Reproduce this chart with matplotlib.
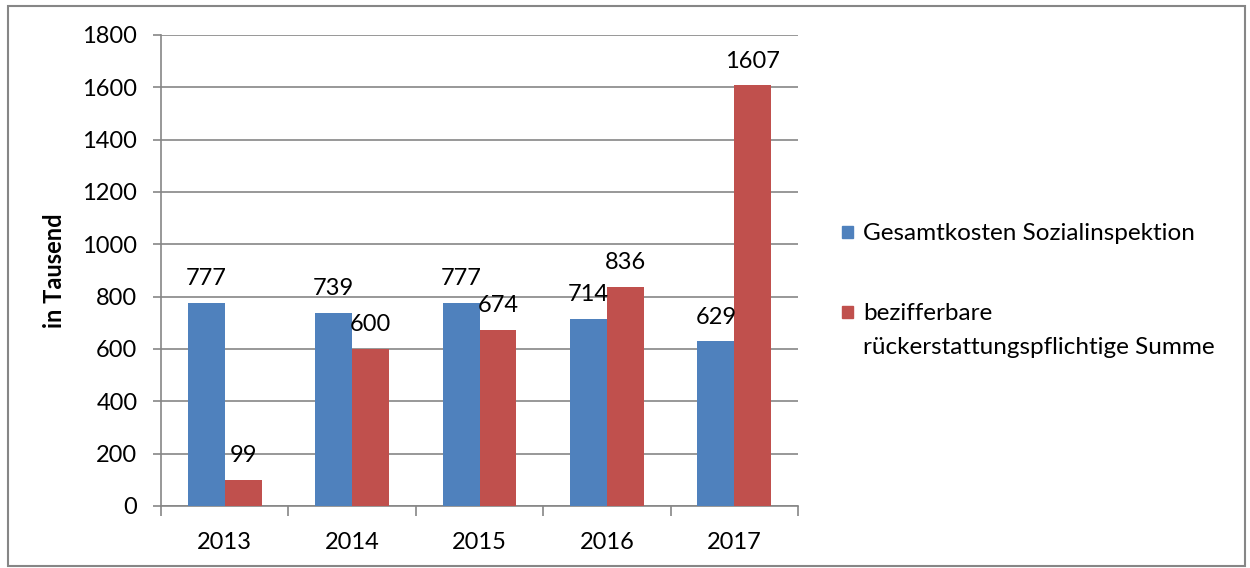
import matplotlib.pyplot as plt
from matplotlib.patches import Rectangle
import numpy as np

jahre = ["2013", "2014", "2015", "2016", "2017"]
gesamtkosten = [777, 739, 777, 714, 629]
rueckerstattung = [99, 600, 674, 836, 1607]
legende = [["Gesamtkosten Sozialinspektion"],
           ["bezifferbare", "rückerstattungspflichtige Summe"]]

blau = "#4F81BD"
rot = "#C0504D"
grau = "#868686"

plt.rcParams['font.family'] = ['Lato', 'DejaVu Sans']
gr = 17

fig = plt.figure(figsize=(12.5, 5.68), dpi=100)
ax = fig.add_axes([0.1288, 0.1092, 0.5096, 0.8292])

x = np.arange(len(jahre))
breite = 0.29
b1 = ax.bar(x - breite / 2, gesamtkosten, breite, color=blau, zorder=3)
b2 = ax.bar(x + breite / 2, rueckerstattung, breite, color=rot, zorder=3)

for bars, werte in ((b1, gesamtkosten), (b2, rueckerstattung)):
    for b, w in zip(bars, werte):
        ax.annotate(str(w), (b.get_x() + b.get_width() / 2, w), xytext=(0, 10),
                    textcoords="offset points", ha="center", va="bottom", fontsize=gr)

ax.set_ylim(0, 1800)
ax.set_yticks(range(0, 1801, 200))
ax.set_xlim(-0.5, len(jahre) - 0.5)
ax.set_xticks(x)
ax.set_xticklabels(jahre)
ax.set_xticks(np.arange(-0.5, len(jahre)), minor=True)
ax.tick_params(axis="x", which="major", length=0, pad=19, labelsize=gr)
ax.tick_params(axis="x", which="minor", length=7, color=grau, width=1.2)
ax.tick_params(axis="y", length=6, color=grau, width=1.2, labelsize=gr, pad=11)
ax.yaxis.grid(True, color=grau, linewidth=1.2, zorder=0)
ax.set_axisbelow(True)
for s in ("top", "right"):
    ax.spines[s].set_visible(False)
for s in ("left", "bottom"):
    ax.spines[s].set_color(grau)
    ax.spines[s].set_linewidth(1.2)
ax.set_ylabel("in Tausend", fontsize=gr, fontweight="bold", labelpad=12)

# Legende von Hand, damit das Kästchen auf der ersten Zeile sitzt
H = 568
eintrag_y = [232, 312]
zeilenabstand = 33
for farbe, zeilen, y0 in zip([blau, rot], legende, eintrag_y):
    fig.patches.append(Rectangle((842 / 1250, 1 - (y0 + 6) / H), 11 / 1250, 12 / H,
                                 transform=fig.transFigure, color=farbe))
    for i, z in enumerate(zeilen):
        fig.text(863 / 1250, 1 - (y0 + i * zeilenabstand) / H, z, fontsize=17.5,
                 va="center_baseline", ha="left")

fig.patches.append(Rectangle((0.0064, 0.004), 0.9896, 0.986, transform=fig.transFigure,
                             fill=False, edgecolor=grau, linewidth=1.5))

fig.savefig("out.png", dpi=100)
